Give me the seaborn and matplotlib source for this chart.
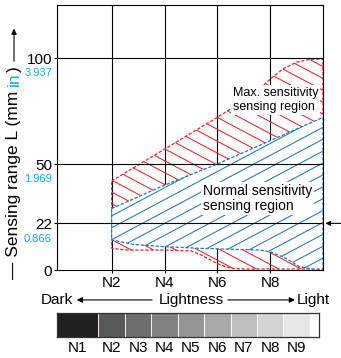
import numpy as np
import matplotlib
matplotlib.use("Agg")
import matplotlib.pyplot as plt
import seaborn as sns
from matplotlib.patches import Polygon
from matplotlib.collections import LineCollection
from matplotlib.text import OffsetFrom
from matplotlib.transforms import IdentityTransform, blended_transform_factory

# boundaries of the two sensing regions (x = lightness N-value, y = range in mm)
max_upper_x = [2, 3, 4, 5, 6, 6.5, 7, 7.5, 8, 8.5, 9, 9.5, 10]
max_upper_y = [42, 49.5, 57, 64.5, 72, 76, 80, 84.5, 90, 95, 98, 99.3, 99.5]
max_lower_x = [2, 2.6, 4, 5, 5.4, 6, 6.5, 7, 10]
max_lower_y = [10.2, 9.4, 9.4, 9, 7, 3, 0.8, 0.5, 0.5]
norm_upper_x = [2, 4, 6, 8, 9, 10]
norm_upper_y = [29, 40, 50, 61, 66.5, 72]
norm_lower_x = [2, 2.8, 4, 5.4, 7.6, 8, 8.6, 9.1, 9.6, 10]
norm_lower_y = [14.2, 12.1, 11, 10.2, 9.4, 8.6, 5.5, 1.6, 0.5, 0.5]

x_ticks = [2, 4, 6, 8]
x_tick_labels = ["N2", "N4", "N6", "N8"]
y_ticks = [0, 22, 50, 100]
y_inch_labels = ["", "0.866", "1.969", "3.937"]

shade_labels = ["N1", "N2", "N3", "N4", "N5", "N6", "N7", "N8", "N9", ""]
shade_colors = ["#231f20", "#58595b", "#6d6e71", "#808285", "#939598",
                "#a7a9ac", "#bcbec0", "#d1d3d4", "#e6e7e8", "#ffffff"]

RED = "#e3262b"
BLUE = "#1f74c4"
CYAN = "#1ba6e6"
DASH = (0, (2.6, 1.4))

sns.set_theme(style="white")
plt.rcParams["font.family"] = ["Liberation Sans", "DejaVu Sans"]
plt.rcParams["text.color"] = "black"


def region(ux, uy, lx, ly):
    return np.column_stack([list(ux) + list(lx)[::-1], list(uy) + list(ly)[::-1]])


def hatch(ax, patch, angle, color, spacing=10.5, lw=0.75, zorder=1):
    x0, y0, x1, y1 = ax.bbox.extents
    t = np.tan(np.radians(angle))
    cs = [y0 - t * x0, y0 - t * x1, y1 - t * x0, y1 - t * x1]
    step = spacing / np.cos(np.radians(angle))
    segs = [[(x0, t * x0 + c), (x1, t * x1 + c)]
            for c in np.arange(min(cs), max(cs), step)]
    lc = LineCollection(segs, colors=color, linewidths=lw,
                        transform=IdentityTransform(), zorder=zorder)
    ax.add_collection(lc, autolim=False)
    lc.set_clip_path(patch)


fig = plt.figure(figsize=(3.41, 3.58), dpi=100)
ax = fig.add_axes([57 / 341, 88 / 358, 266 / 341, 265 / 358])
ax.set_xlim(-0.07, 10.0)
ax.set_ylim(0, 125)
for s in ax.spines.values():
    s.set_color("black"); s.set_linewidth(0.8)

# grid: verticals sit under the normal region, horizontals run across it
for x in x_ticks:
    ax.axvline(x, color="black", lw=0.8, zorder=0.5)
for y in y_ticks[1:]:
    ax.axhline(y, color="black", lw=0.8, zorder=2.3)

# max sensitivity region (red, hatched \)
red_patch = Polygon(region(max_upper_x, max_upper_y, max_lower_x, max_lower_y),
                    closed=True, facecolor="none", edgecolor=RED, lw=0.9,
                    ls=DASH, zorder=1.5)
ax.add_patch(red_patch)
hatch(ax, red_patch, -28, RED, zorder=1)

# normal sensitivity region (blue, hatched /)
blue_fill = Polygon(region(norm_upper_x, norm_upper_y, norm_lower_x, norm_lower_y),
                    closed=True, facecolor="white", edgecolor="none", zorder=2)
ax.add_patch(blue_fill)
hatch(ax, blue_fill, 28, BLUE, zorder=2.2)
bx = list(norm_upper_x) + list(norm_lower_x)[::-1] + [norm_upper_x[0]]
by = list(norm_upper_y) + list(norm_lower_y)[::-1] + [norm_upper_y[0]]
sns.lineplot(x=bx, y=by, sort=False, ax=ax, color=BLUE, lw=0.9,
             linestyle=DASH, zorder=2.6, estimator=None)

ax.text(6.58, 80.2, "Max. sensitivity\nsensing region", ha="left", va="center",
        fontsize=9, linespacing=1.2, zorder=5,
        bbox=dict(facecolor="white", edgecolor="none", pad=1.5))
ax.text(5.46, 33.7, "Normal sensitivity\nsensing region", ha="left", va="center",
        fontsize=10, linespacing=1.1, zorder=5,
        bbox=dict(facecolor="white", edgecolor="none", pad=1.5))

ax.set_xticks(x_ticks, x_tick_labels)
ax.set_yticks(y_ticks, [str(v) for v in y_ticks])
ax.tick_params(axis="both", bottom=True, left=True, direction="out", length=2.5,
               width=0.8, color="black", labelcolor="black", labelsize=11)
ax.tick_params(axis="x", pad=2)
ax.tick_params(axis="y", pad=1)
ax.set_xlabel(""); ax.set_ylabel("")

for y, lab in zip(y_ticks, y_inch_labels):
    if lab:
        ax.annotate(lab, xy=(0, y), xycoords=("axes fraction", "data"),
                    xytext=(-3.6, -11), textcoords="offset points", ha="right",
                    va="center", color=CYAN, fontsize=8)

# arrow pointing at the 22 mm line from the right
ax.annotate("", xy=(10.09, 22), xytext=(10.8, 22),
            arrowprops=dict(arrowstyle="-|>", lw=0.8, color="black",
                            shrinkA=0, shrinkB=0, mutation_scale=7),
            annotation_clip=False)

# lightness axis caption
tr = blended_transform_factory(ax.transData, ax.transAxes)
row = -0.113
ax.text(0.53, row, "Dark", ha="right", va="center", transform=tr, fontsize=11)
ax.text(5.0, row, "Lightness", ha="center", va="center", transform=tr, fontsize=11)
ax.text(9.0, row, "Light", ha="left", va="center", transform=tr, fontsize=11)
arrow_kw = dict(arrowstyle="-|>", lw=0.8, color="black", shrinkA=0, shrinkB=0,
                mutation_scale=8)
ax.annotate("", xy=(0.68, row), xytext=(3.53, row), xycoords=tr, textcoords=tr,
            arrowprops=arrow_kw, annotation_clip=False)
ax.annotate("", xy=(8.94, row), xytext=(6.4, row), xycoords=tr, textcoords=tr,
            arrowprops=arrow_kw, annotation_clip=False)

# y label: "— Sensing range L (mm in) —>" with "in" in cyan
t1 = fig.text(14 / 341, 79 / 358, "— Sensing range L (mm", rotation=90,
              ha="center", va="bottom", fontsize=12.5)
t2 = ax.annotate("in", xy=(0.5, 1), xycoords=t1, xytext=(0, 3.2),
                 textcoords="offset points", rotation=90, ha="center",
                 va="bottom", color=CYAN, fontsize=12.5, annotation_clip=False)
t3 = ax.annotate(")", xy=(0.5, 1), xycoords=t2, xytext=(0, 0.6),
                 textcoords="offset points", rotation=90, ha="center",
                 va="bottom", fontsize=12.5, annotation_clip=False)
top = OffsetFrom(t3, (0.5, 1))
ax.annotate("", xy=(0, 27), xycoords=top, xytext=(0, 3.5), textcoords=top,
            arrowprops=arrow_kw, annotation_clip=False)

# grey scale strip
ax2 = fig.add_axes([57 / 341, 21 / 358, 262 / 341, 24 / 358])
xmin, xmax = -0.07, 9.85
ax2.set_xlim(xmin, xmax)
ax2.set_ylim(0, 1)
edges = np.r_[xmin, 1.5 + np.arange(len(shade_colors) - 1), xmax]
ax2.bar(edges[:-1], 1, width=np.diff(edges), align="edge", color=shade_colors,
        edgecolor="white", linewidth=0.6)
centers = (edges[:-1] + edges[1:]) / 2
ax2.set_xticks(centers[:-1], shade_labels[:-1])
ax2.set_yticks([])
ax2.tick_params(axis="x", length=0, pad=3, labelsize=11, labelcolor="black")
for s in ax2.spines.values():
    s.set_color("#333333"); s.set_linewidth(0.9)

fig.savefig("out.png", dpi=100)
